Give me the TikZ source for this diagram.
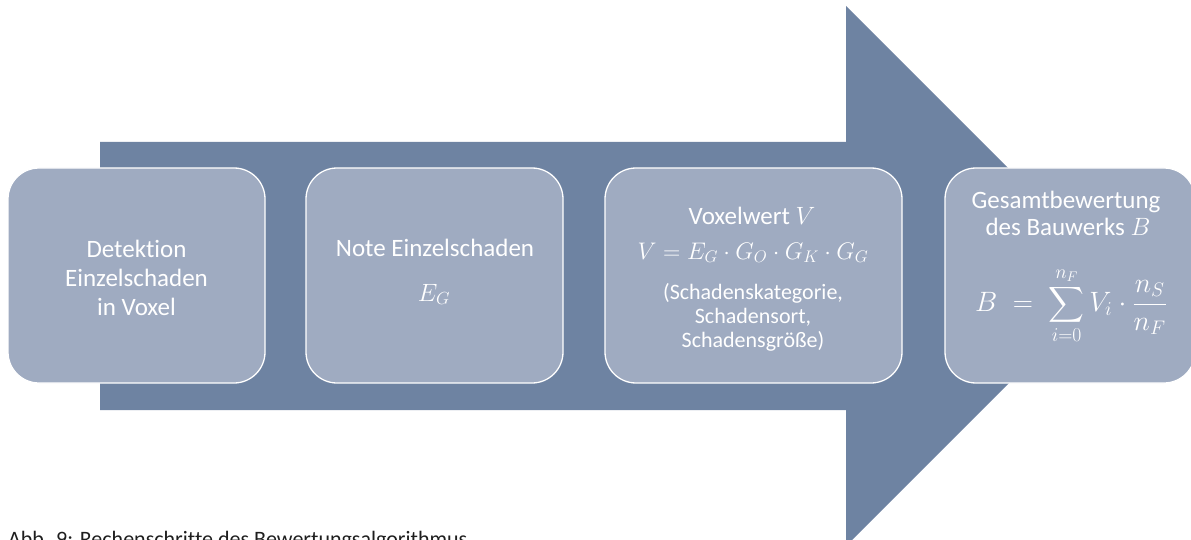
\RequirePackage{fix-cm}
\documentclass[tikz,border=0pt]{standalone}
\usepackage{amsmath}
\usepackage{fontspec}
\setmainfont{Carlito}[Ligatures=NoCommon]
\definecolor{arrowcol}{RGB}{110,131,162}
\definecolor{boxcol}{RGB}{159,171,193}
\definecolor{captioncol}{RGB}{30,30,30}
\tikzset{
  stepbox/.style={draw=white, line width=1.3pt, fill=boxcol, rounded corners=31pt, inner sep=0pt},
  boxtext/.style={text=white, inner sep=0pt, align=center, font=\fontsize{25}{29}\selectfont},
  smalltext/.style={text=white, inner sep=0pt, align=center, font=\fontsize{22}{24}\selectfont},
}
\begin{document}
\begin{tikzpicture}[x=1pt,y=-1pt]
\clip (0,0) rectangle (1191,540);
% big arrow
\fill[arrowcol] (100,142) -- (846,142) -- (846,6) -- (1116,276) -- (846,546) -- (846,410) -- (100,410) -- cycle;
% boxes
\node[stepbox, minimum width=257pt, minimum height=215pt] (b1) at (136.5,275.5) {};
\node[stepbox, minimum width=257pt, minimum height=215pt] (b2) at (434.5,275.5) {};
\node[stepbox, minimum width=297pt, minimum height=215pt] (b3) at (753.5,275.5) {};
\node[stepbox, minimum width=250pt, minimum height=215pt] (b4) at (1070,275.5) {};
% box 1
\node[boxtext] (t1) at (136.5,278) {Detektion\\Einzelschaden\\in Voxel};
% box 2
\node[boxtext, anchor=base] (t2a) at (435,256) {Note Einzelschaden};
\node[boxtext, anchor=base] (t2b) at (434,301) {$E_G$};
% box 3
\node[boxtext, anchor=base] (t3a) at (752,225) {Voxelwert $V$};
\node[text=white, inner sep=0pt, anchor=base, font=\fontsize{24}{28}\selectfont] (t3b) at (753,259) {$V = E_G \cdot G_O \cdot G_K \cdot G_G$};
\node[smalltext] (t3c) at (753,317) {(Schadenskategorie,\\Schadensort,\\Schadensgröße)};
% box 4
\node[boxtext, anchor=base] (t4a) at (1066,208) {Gesamtbewertung};
\node[boxtext, anchor=base] (t4b) at (1068,235) {des Bauwerks $B$};
\node[text=white, inner sep=0pt, font=\fontsize{28}{32}\selectfont] (t4c) at (1071,306)
  {$\displaystyle B \;=\; \sum_{i=0}^{n_F} V_i \cdot \frac{n_S}{n_F}$};
% caption
\node[text=captioncol, inner sep=0pt, anchor=base west, font=\fontsize{22}{26}\selectfont] (cap) at (8,546) {Abb. 9: Rechenschritte des Bewertungsalgorithmus};
\end{tikzpicture}
\end{document}
